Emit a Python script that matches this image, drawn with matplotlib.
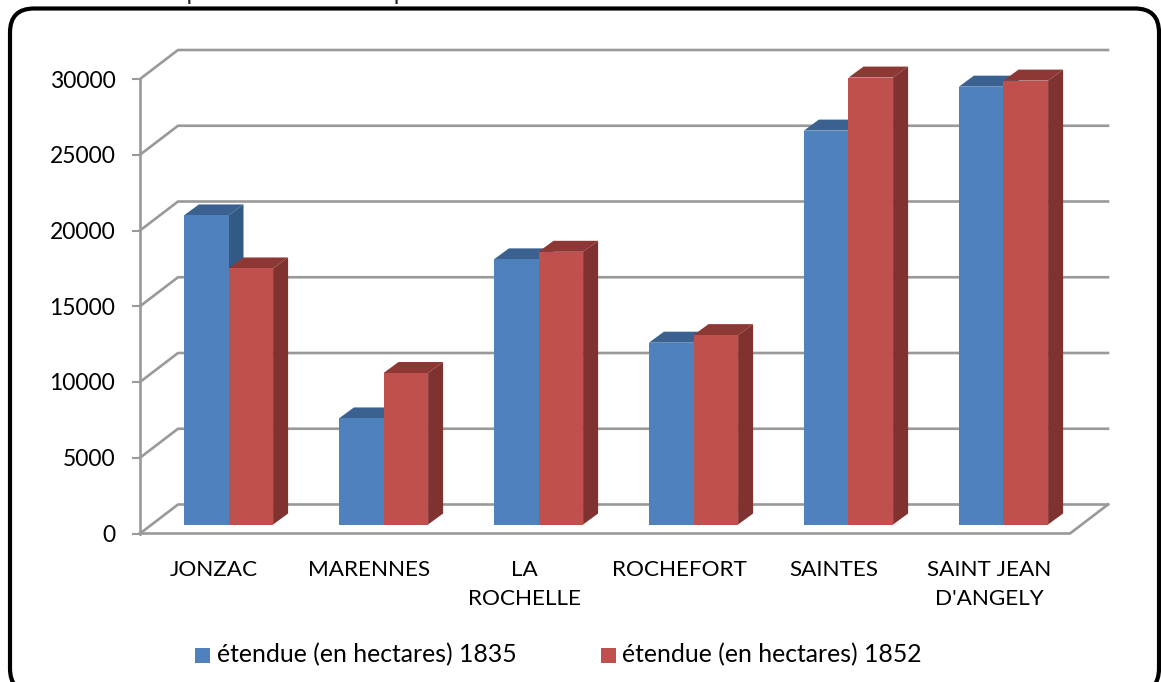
import matplotlib
matplotlib.use("Agg")
import matplotlib.pyplot as plt
from matplotlib.patches import FancyBboxPatch, Polygon, Rectangle

plt.rcParams['font.family'] = ['Lato', 'DejaVu Sans']

categories = ['JONZAC', 'MARENNES', 'LA\nROCHELLE', 'ROCHEFORT', 'SAINTES', "SAINT JEAN\nD'ANGELY"]
values_1835 = [20400, 7000, 17500, 12000, 26000, 28900]
values_1852 = [16900, 10000, 18000, 12500, 29500, 29300]
yticks = [0, 5000, 10000, 15000, 20000, 25000, 30000]
legend_labels = ['étendue (en hectares) 1835', 'étendue (en hectares) 1852']
top_text = "Tableau comparatif des surfaces plantées en 1835 et 1852 en hectares"

W, H = 1161, 682
fig = plt.figure(figsize=(W / 100, H / 100), dpi=100)

# rounded frame
bg = fig.add_axes([0, 0, 1, 1])
bg.set_xlim(0, W)
bg.set_ylim(H, 0)
bg.axis('off')
bg.add_patch(FancyBboxPatch((10, 8.5), 1149, 684, boxstyle="round,pad=0,rounding_size=24",
                            fc='white', ec='black', lw=3))
# only the bottom of this line is on the page in the original too
bg.text(55, 0.5, top_text, fontsize=17, color='#222222', ha='left', va='baseline', clip_on=False)

# front plane of the plot
ax = fig.add_axes([140 / W, 1 - 533.5 / H, 930 / W, 454.5 / H])
ax.set_xlim(0, 6)
ax.set_ylim(0, 30000)
ax.patch.set_alpha(0)
for s in ax.spines.values():
    s.set_visible(False)

dx = 38 / 155.0    # depth of the floor, x units
dy = 29 / 75.75 * 5000    # depth of the floor, y units
grid_c = '#999999'

for v in yticks:
    ax.plot([0, dx, 6 + dx], [v, v + dy, v + dy], color=grid_c, lw=1.9, clip_on=False, zorder=1)
ax.plot([0, 0], [0, 30000], color=grid_c, lw=1.9, clip_on=False, zorder=1)
ax.plot([0, 6, 6 + dx], [0, 0, dy], color=grid_c, lw=1.9, clip_on=False, zorder=1)

bw = 44.6 / 155.0
shift = 11 / 155.0
floor = 9 / 75.75 * 5000
ddx = 15 / 155.0
ddy = 11 / 75.75 * 5000


def bar3d(xc, v, front, top, side, z):
    x0 = xc - bw / 2
    x1 = xc + bw / 2
    y1 = floor + v
    ax.bar(xc, v, bw, bottom=floor, color=front, zorder=z + 0.2, clip_on=False)
    ax.add_patch(Polygon([(x0, y1), (x0 + ddx, y1 + ddy), (x1 + ddx, y1 + ddy), (x1, y1)],
                         fc=top, ec='none', zorder=z, clip_on=False))
    ax.add_patch(Polygon([(x1, floor), (x1 + ddx, floor + ddy), (x1 + ddx, y1 + ddy), (x1, y1)],
                         fc=side, ec='none', zorder=z, clip_on=False))


for i in range(len(categories)):
    c = i + 0.5 + shift
    bar3d(c - bw / 2, values_1835[i], '#4F81BD', '#3A6190', '#335A85', 3 + i)
    bar3d(c + bw / 2, values_1852[i], '#C0504D', '#8E3836', '#7F3230', 3.5 + i)

ax.set_yticks(yticks)
ax.set_xticks([i + 0.5 - 3.5 / 155.0 for i in range(len(categories))])
ax.set_xticklabels(categories, linespacing=1.55)
ax.tick_params(axis='y', length=5.8, width=1.5, color=grid_c, labelsize=16.5, pad=12)
ax.tick_params(axis='x', length=0, labelsize=16.2, pad=19)

# legend
bg.add_patch(Rectangle((195, 648), 15, 15, fc='#4F81BD', ec='none'))
bg.add_patch(Rectangle((601, 648), 15, 15, fc='#C0504D', ec='none'))
bg.text(217, 655, legend_labels[0], fontsize=17.8, va='center', ha='left', color='black')
bg.text(622, 655, legend_labels[1], fontsize=17.8, va='center', ha='left', color='black')

fig.savefig('out.png', dpi=100)
